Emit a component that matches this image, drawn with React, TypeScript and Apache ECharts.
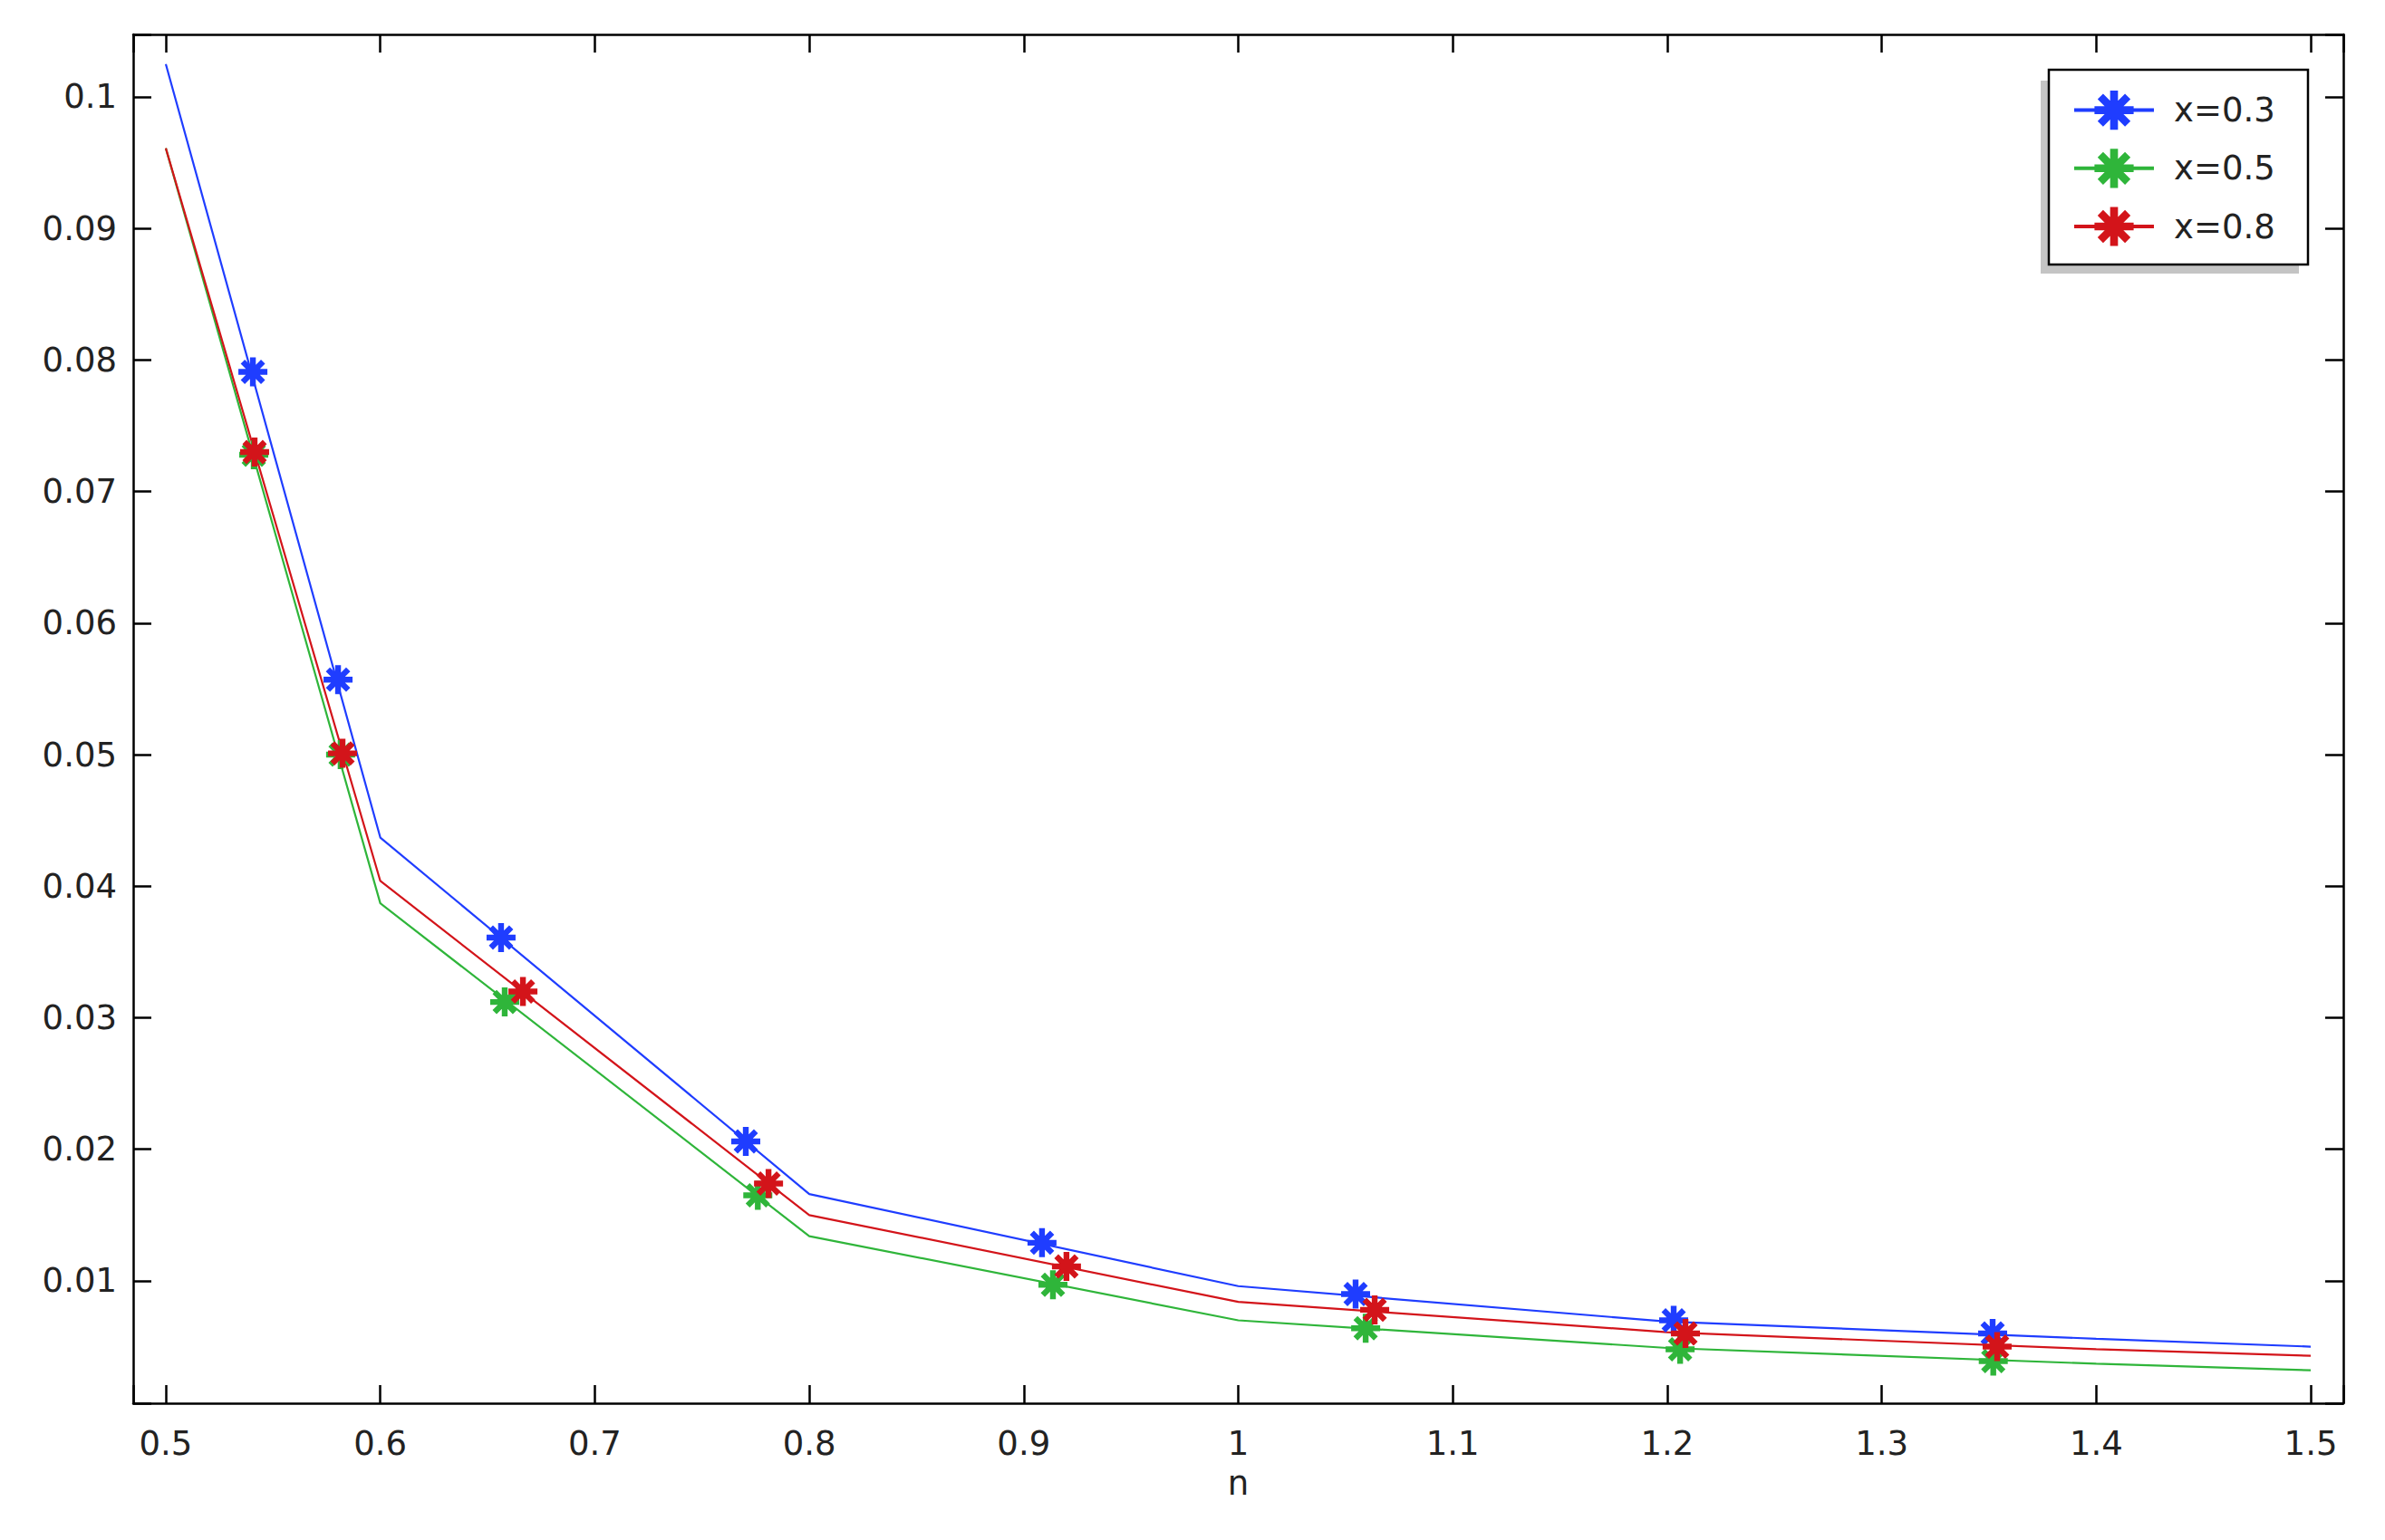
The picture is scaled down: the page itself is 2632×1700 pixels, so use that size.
import { useEffect, useRef } from "react";
import * as echarts from "echarts";

// n values where the computed curves have vertices
const N_LINE = [0.5, 0.6, 0.8, 1.0, 1.2, 1.4, 1.5];
const BLUE_LINE = [0.1025, 0.0437, 0.0166, 0.0096, 0.0069, 0.0056, 0.005];
const GREEN_LINE = [0.0961, 0.0387, 0.0134, 0.007, 0.0049, 0.0037, 0.0032];
const RED_LINE = [0.0961, 0.0404, 0.015, 0.0084, 0.0061, 0.0048, 0.0043];

// marker positions along each curve
const BLUE_MARK_N = [0.5406, 0.5803, 0.6563, 0.7704, 0.9085, 1.0547, 1.203, 1.3517];
const BLUE_MARK_V = [0.0791, 0.0557, 0.0361, 0.0206, 0.0129, 0.009, 0.007, 0.006];
const GREEN_MARK_N = [0.541, 0.5815, 0.658, 0.776, 0.9136, 1.0594, 1.206, 1.352];
const GREEN_MARK_V = [0.0728, 0.05, 0.0312, 0.0165, 0.0097, 0.0064, 0.0048, 0.0039];
const RED_MARK_N = [0.5414, 0.5824, 0.6665, 0.781, 0.9199, 1.0636, 1.2085, 1.3538];
const RED_MARK_V = [0.073, 0.0501, 0.032, 0.0174, 0.0111, 0.0078, 0.006, 0.005];

const SERIES_NAMES = ["x=0.3", "x=0.5", "x=0.8"];
const COLORS = ["#1f3dff", "#2fb53a", "#d3141a"];

const X_MIN = 0.4848;
const X_MAX = 1.5152;
const Y_MIN = 0.0007;
const Y_MAX = 0.10475;

const FONT = "DejaVu Sans";
const TEXT_COLOR = "#222";

// eight-spoke asterisk marker
const STAR =
  "path://M0 8L20 8L20 12L0 12Z" +
  "M8 0L12 0L12 20L8 20Z" +
  "M4.41 1.59L18.41 15.59L15.59 18.41L1.59 4.41Z" +
  "M15.59 1.59L18.41 4.41L4.41 18.41L1.59 15.59Z";

const zip = (a: number[], b: number[]) => a.map((v, i) => [v, b[i]]);

function onGrid(v: number, step: number) {
  const k = v / step;
  return Math.abs(k - Math.round(k)) < 1e-6;
}

export default function App() {
  const ref = useRef<HTMLDivElement>(null);

  useEffect(() => {
    if (!ref.current) return;
    const chart = echarts.init(ref.current, undefined, { renderer: "svg" });

    const axisLine = { show: true, lineStyle: { color: "#000", width: 2.5 } };
    const axisTick = { show: true, inside: true, length: 20, lineStyle: { color: "#000", width: 2.5 } };

    const lines = [BLUE_LINE, GREEN_LINE, RED_LINE];
    const marksN = [BLUE_MARK_N, GREEN_MARK_N, RED_MARK_N];
    const marksV = [BLUE_MARK_V, GREEN_MARK_V, RED_MARK_V];

    const lineSeries = SERIES_NAMES.map((name, i) => ({
      name,
      type: "line",
      data: zip(N_LINE, lines[i]),
      showSymbol: false,
      symbol: STAR,
      color: COLORS[i],
      lineStyle: { color: COLORS[i], width: 2.2 },
      itemStyle: { color: COLORS[i] },
      z: 2 + i,
      silent: true,
    }));

    const markSeries = SERIES_NAMES.map((name, i) => ({
      name,
      type: "scatter",
      data: zip(marksN[i], marksV[i]),
      symbol: STAR,
      symbolSize: 32,
      itemStyle: { color: COLORS[i], opacity: 1 },
      z: 6 + i,
      silent: true,
    }));

    chart.setOption({
      animation: false,
      backgroundColor: "#fff",
      grid: { left: 147, right: 46, top: 38, bottom: 151, containLabel: false },
      xAxis: [
        {
          type: "value",
          position: "bottom",
          min: X_MIN,
          max: X_MAX,
          splitNumber: 10,
          name: "n",
          nameLocation: "middle",
          nameGap: 70,
          nameTextStyle: { fontFamily: FONT, fontSize: 37, color: TEXT_COLOR },
          axisLine,
          axisTick,
          splitLine: { show: false },
          axisLabel: {
            margin: 26,
            fontFamily: FONT,
            fontSize: 37,
            color: TEXT_COLOR,
            formatter: (v: number) => (onGrid(v, 0.1) ? String(+v.toFixed(2)) : ""),
          },
        },
        {
          type: "value",
          position: "top",
          min: X_MIN,
          max: X_MAX,
          splitNumber: 10,
          axisLine,
          axisTick,
          splitLine: { show: false },
          axisLabel: { show: false },
        },
      ],
      yAxis: [
        {
          type: "value",
          position: "left",
          min: Y_MIN,
          max: Y_MAX,
          splitNumber: 10,
          axisLine,
          axisTick,
          splitLine: { show: false },
          axisLabel: {
            margin: 18,
            fontFamily: FONT,
            fontSize: 37,
            color: TEXT_COLOR,
            formatter: (v: number) => (onGrid(v, 0.01) ? String(+v.toFixed(3)) : ""),
          },
        },
        {
          type: "value",
          position: "right",
          min: Y_MIN,
          max: Y_MAX,
          splitNumber: 10,
          axisLine,
          axisTick,
          splitLine: { show: false },
          axisLabel: { show: false },
        },
      ],
      legend: {
        data: SERIES_NAMES,
        orient: "vertical",
        left: 2287,
        top: 100,
        padding: 0,
        itemWidth: 88,
        itemHeight: 54,
        itemGap: 21,
        z: 10,
        selectedMode: false,
        lineStyle: { width: 4 },
        textStyle: { fontFamily: FONT, fontSize: 37, color: TEXT_COLOR, padding: [0, 0, 0, 17] },
      },
      graphic: [
        {
          type: "rect",
          z: 8,
          shape: { x: 2252, y: 89, width: 285, height: 213 },
          style: { fill: "#c4c4c4" },
          silent: true,
        },
        {
          type: "rect",
          z: 9,
          shape: { x: 2261, y: 77, width: 286, height: 215 },
          style: { fill: "#fff", stroke: "#000", lineWidth: 2.5 },
          silent: true,
        },
      ],
      series: [...lineSeries, ...markSeries],
    });

    return () => chart.dispose();
  }, []);

  return (
    <div
      ref={ref}
      style={{ position: "absolute", left: 0, top: 0, width: "2632px", height: "1700px", background: "#fff" }}
    />
  );
}
